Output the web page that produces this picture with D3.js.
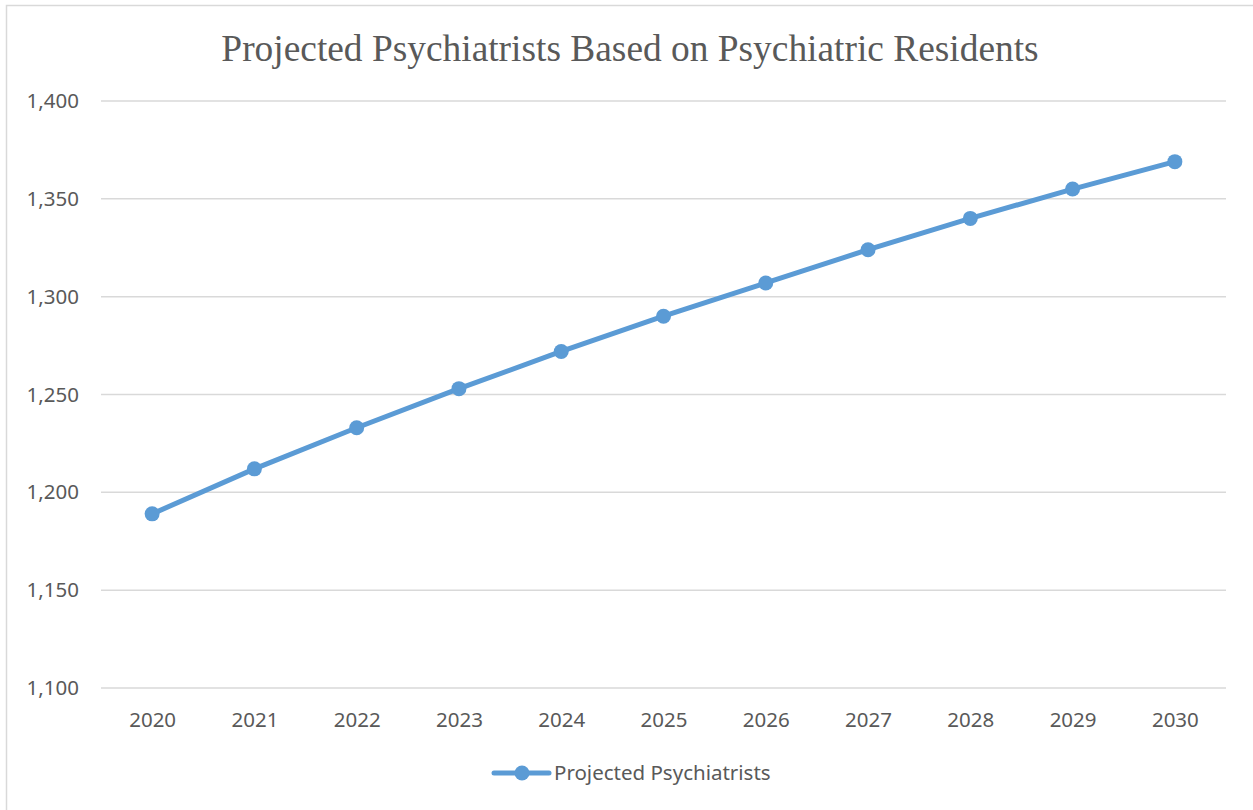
<!DOCTYPE html>
<html>
<head>
<meta charset="utf-8">
<script src="https://cdn.jsdelivr.net/npm/d3@7"></script>
<style>
  html, body { margin: 0; padding: 0; background: #fff; }
  svg { display: block; }
</style>
</head>
<body>
<div id="chart"></div>
<script>
// data
const years = ['2020', '2021', '2022', '2023', '2024', '2025', '2026', '2027', '2028', '2029', '2030'];
const psychiatrists = [1189, 1212, 1233, 1253, 1272, 1290, 1307, 1324, 1340, 1355, 1369];
const yTicks = [1100, 1150, 1200, 1250, 1300, 1350, 1400];
const seriesName = 'Projected Psychiatrists';
const title = 'Projected Psychiatrists Based on Psychiatric Residents';

const W = 1253, H = 810;
const plot = { left: 101, right: 1226, top: 101, bottom: 688 };
const blue = '#5B9BD5';
const textGrey = '#595959';
const labelFont = '"Noto Sans", "Open Sans", sans-serif';
const labelSize = 20.5;

const svg = d3.select('#chart').append('svg')
  .attr('width', W).attr('height', H);

// chart frame
svg.append('rect')
  .attr('x', 6.5).attr('y', 5.5)
  .attr('width', W + 10).attr('height', H + 10)
  .attr('fill', '#fff')
  .attr('stroke', '#d9d9d9')
  .attr('stroke-width', 1.5);

// title
svg.append('text')
  .attr('x', 630).attr('y', 61)
  .attr('text-anchor', 'middle')
  .attr('font-family', '"Liberation Serif", "Times New Roman", serif')
  .attr('font-size', 37.4)
  .attr('fill', textGrey)
  .text(title);

const x = d3.scalePoint()
  .domain(years)
  .range([plot.left, plot.right])
  .padding(0.5);

const y = d3.scaleLinear()
  .domain([1100, 1400])
  .range([plot.bottom, plot.top]);

// gridlines
svg.append('g')
  .selectAll('line')
  .data(yTicks)
  .join('line')
  .attr('x1', plot.left).attr('x2', plot.right)
  .attr('y1', d => y(d)).attr('y2', d => y(d))
  .attr('stroke', '#d9d9d9')
  .attr('stroke-width', 1.5);

// y axis labels
const yAxis = svg.append('g')
  .attr('transform', `translate(${plot.left},0)`)
  .call(d3.axisLeft(y).tickValues(yTicks).tickFormat(d3.format(',')).tickSize(0).tickPadding(22));
yAxis.select('.domain').remove();
yAxis.selectAll('text')
  .attr('font-family', labelFont)
  .attr('font-size', labelSize)
  .attr('fill', textGrey);

// x axis labels
const xAxis = svg.append('g')
  .attr('transform', `translate(0,${plot.bottom})`)
  .call(d3.axisBottom(x).tickSize(0).tickPadding(24));
xAxis.select('.domain').remove();
xAxis.selectAll('text')
  .attr('font-family', labelFont)
  .attr('font-size', labelSize)
  .attr('fill', textGrey);

// series line
const line = d3.line()
  .x((d, i) => x(years[i]))
  .y(d => y(d));

svg.append('path')
  .datum(psychiatrists)
  .attr('d', line)
  .attr('fill', 'none')
  .attr('stroke', blue)
  .attr('stroke-width', 5)
  .attr('stroke-linejoin', 'round')
  .attr('stroke-linecap', 'round');

svg.append('g')
  .selectAll('circle')
  .data(psychiatrists)
  .join('circle')
  .attr('cx', (d, i) => x(years[i]))
  .attr('cy', d => y(d))
  .attr('r', 7.5)
  .attr('fill', blue);

// legend
const lg = svg.append('g').attr('transform', 'translate(494,773)');
lg.append('line')
  .attr('x1', 0).attr('x2', 55)
  .attr('stroke', blue).attr('stroke-width', 5)
  .attr('stroke-linecap', 'round');
lg.append('circle').attr('cx', 28).attr('r', 7.5).attr('fill', blue);
lg.append('text')
  .attr('x', 60).attr('y', 7)
  .attr('font-family', labelFont)
  .attr('font-size', labelSize)
  .attr('fill', textGrey)
  .text(seriesName);
</script>
</body>
</html>
